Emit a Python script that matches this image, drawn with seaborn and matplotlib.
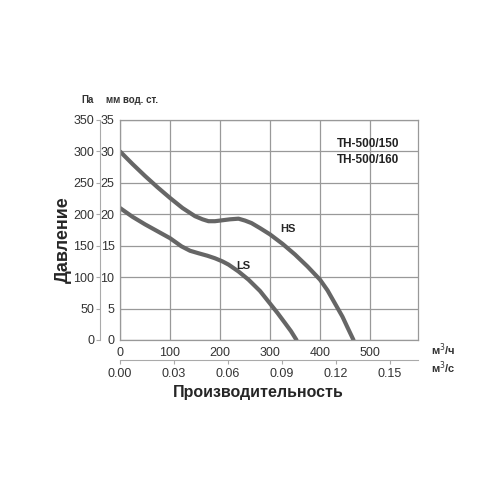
import matplotlib
matplotlib.use("Agg")
import matplotlib.pyplot as plt
import seaborn as sns
import pandas as pd

# расход, м3/ч и давление, Па
hs_flow = [0, 25, 50, 75, 100, 125, 150, 165, 177, 190, 200, 220, 237, 250, 263, 280, 300, 325, 350, 375, 400, 415, 430, 445, 455, 467]
hs_pa = [300, 280, 261, 243, 226, 210, 197, 192, 189, 189, 190, 192, 193, 190, 186, 178, 168, 153, 136, 117, 96, 79, 58, 37, 20, 0]

ls_flow = [0, 25, 50, 75, 100, 123, 140, 157, 175, 190, 205, 217, 237, 257, 280, 300, 315, 330, 342, 353]
ls_pa = [210, 196, 184, 173, 162, 149, 142, 138, 134, 130, 125, 120, 109, 96, 78, 58, 43, 27, 14, 0]

x_ticks = [0, 100, 200, 300, 400, 500]
y_ticks_pa = [0, 50, 100, 150, 200, 250, 300, 350]
y_ticks_mm = [0, 5, 10, 15, 20, 25, 30, 35]
ms_ticks = [0.00, 0.03, 0.06, 0.09, 0.12, 0.15]

hs = pd.DataFrame({"flow": hs_flow, "pa": hs_pa})
ls = pd.DataFrame({"flow": ls_flow, "pa": ls_pa})

sns.set_style("white")
plt.rcParams["font.family"] = ["Liberation Sans", "DejaVu Sans"]

fig = plt.figure(figsize=(5, 5), dpi=100)
ax = fig.add_axes([0.24, 0.32, 0.596, 0.44])

grey = "#666666"
sns.lineplot(data=hs, x="flow", y="pa", ax=ax, color=grey, lw=3, sort=False)
sns.lineplot(data=ls, x="flow", y="pa", ax=ax, color=grey, lw=3, sort=False)

ax.set_xlim(0, 596)
ax.set_ylim(0, 350)
ax.set_xticks(x_ticks)
ax.set_xticklabels([str(v) for v in x_ticks], fontsize=9, color="#333333")
ax.set_yticks(y_ticks_pa)
ax.set_yticklabels([str(v) for v in y_ticks_mm], fontsize=9, color="#333333")
ax.grid(True, color="#999999", lw=0.9)
for s in ax.spines.values():
    s.set_color("#999999")
    s.set_linewidth(0.9)
ax.tick_params(axis="y", length=3, color="#999999", pad=1)
ax.tick_params(axis="x", length=0, pad=5)
ax.set_xlabel("")
ax.set_ylabel("")

# внешняя шкала Па
pa_ax = ax.secondary_yaxis(-0.068)
pa_ax.set_yticks(y_ticks_pa)
pa_ax.set_yticklabels([str(v) for v in y_ticks_pa], fontsize=9, color="#333333")
pa_ax.spines["left"].set_color("#aaaaaa")
pa_ax.tick_params(length=3, color="#aaaaaa", pad=1)

# нижняя шкала м3/с
ms_ax = ax.secondary_xaxis(-0.09, functions=(lambda q: q / 3600, lambda q: q * 3600))
ms_ax.set_xticks(ms_ticks)
ms_ax.set_xticklabels([f"{v:.2f}" for v in ms_ticks], fontsize=9, color="#333333")
ms_ax.spines["bottom"].set_color("#aaaaaa")
ms_ax.tick_params(length=3, color="#aaaaaa", pad=3)

ax.text(336, 177, "HS", fontsize=8, fontweight="bold", ha="center", va="center")
ax.text(246, 118, "LS", fontsize=8, fontweight="bold", ha="center", va="center")
ax.text(496, 312, "TH-500/150", fontsize=8.5, fontweight="bold", ha="center", va="center", color="#222222")
ax.text(496, 286, "TH-500/160", fontsize=8.5, fontweight="bold", ha="center", va="center", color="#222222")

fig.text(0.176, 0.80, "Па", fontsize=7, fontweight="bold", ha="center", va="center", color="#333333")
fig.text(0.264, 0.80, "мм вод. ст.", fontsize=7, fontweight="bold", ha="center", va="center", color="#333333")
fig.text(0.862, 0.30, "м$^3$/ч", fontsize=8, fontweight="bold", ha="left", va="center", color="#333333")
fig.text(0.862, 0.264, "м$^3$/с", fontsize=8, fontweight="bold", ha="left", va="center", color="#333333")
fig.text(0.126, 0.52, "Давление", fontsize=13, fontweight="bold", rotation=90, ha="center", va="center")
fig.text(0.517, 0.214, "Производительность", fontsize=11.5, fontweight="bold", ha="center", va="center")

fig.savefig("out.png", dpi=100, facecolor="white")
